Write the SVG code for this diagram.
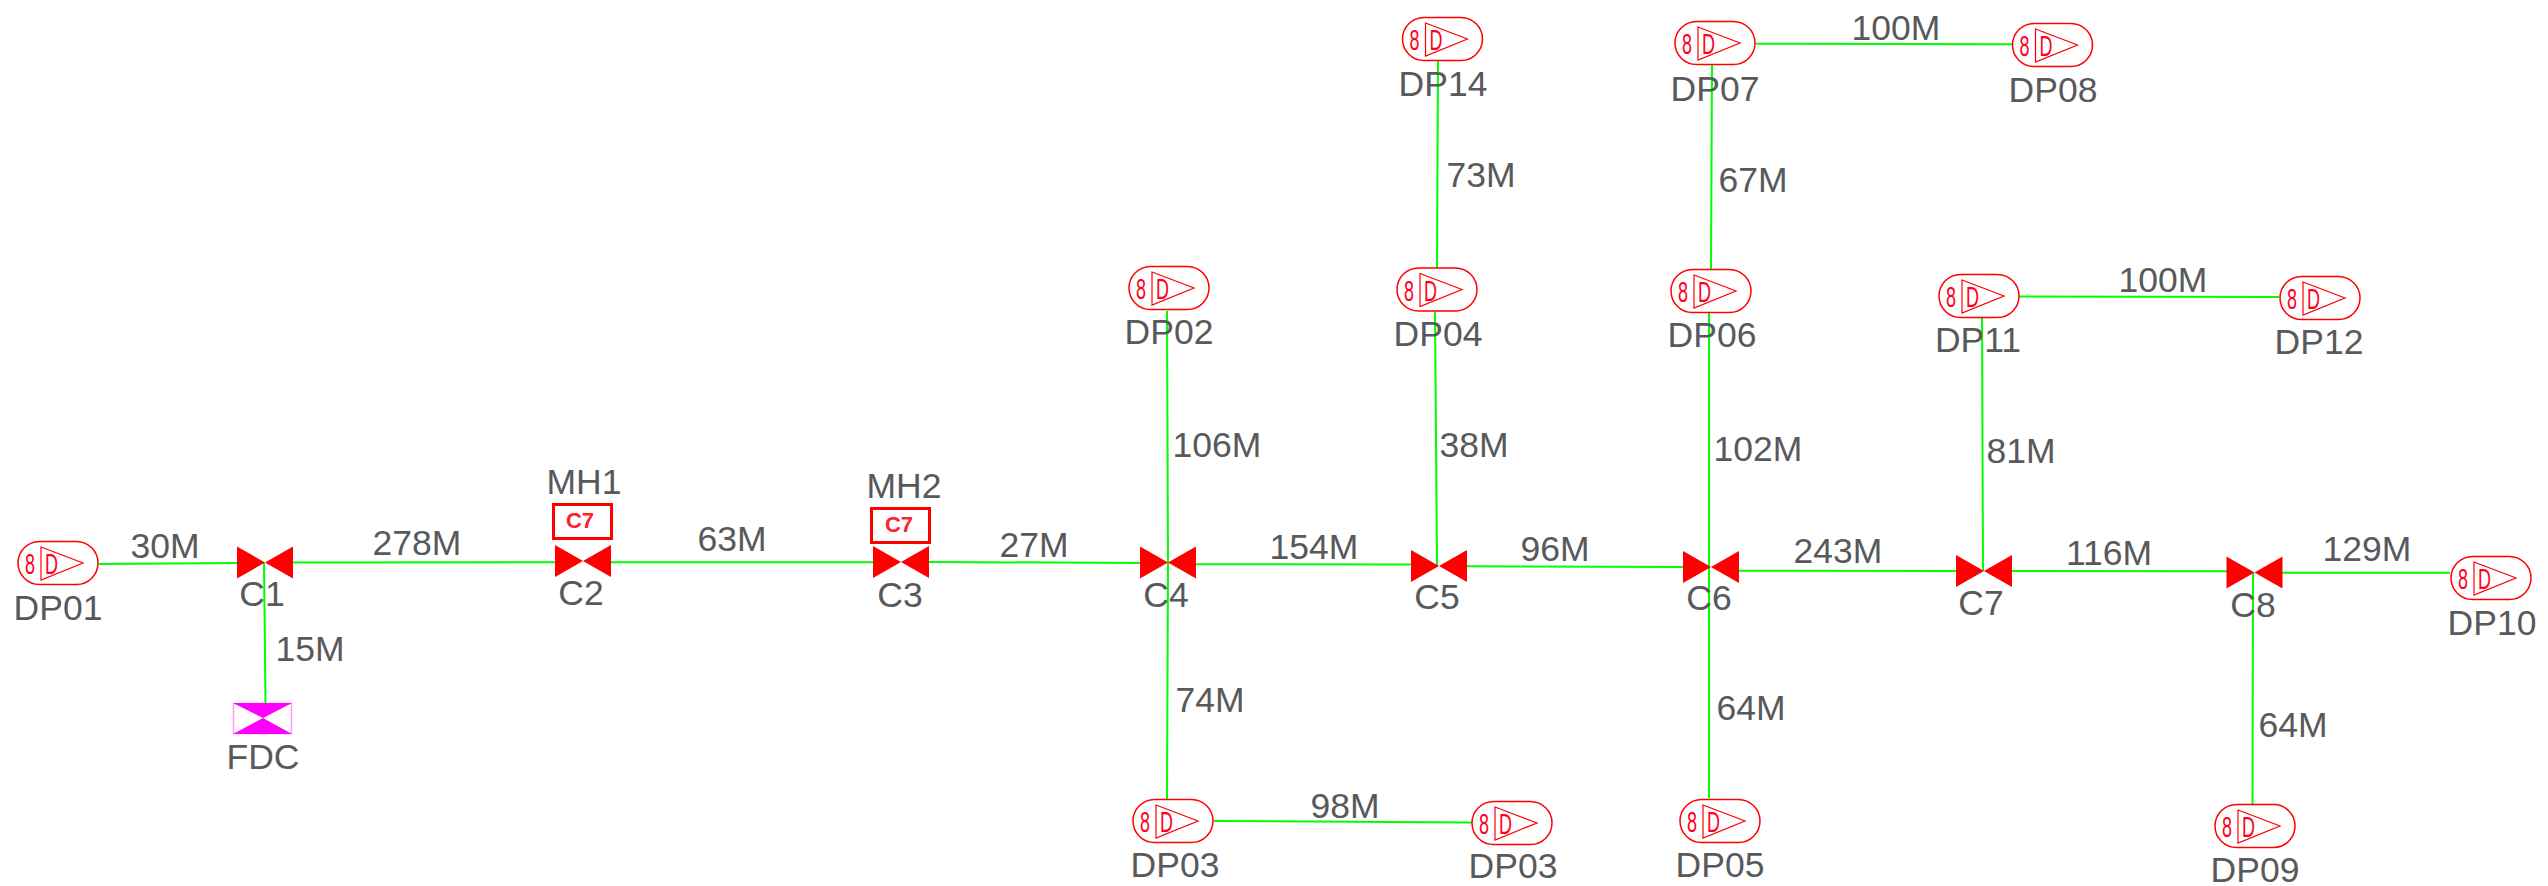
<svg xmlns="http://www.w3.org/2000/svg" width="2548" height="886" viewBox="0 0 2548 886">
<style>
text{font-family:"Liberation Sans",Arial,sans-serif}
.t{font-size:35.5px;fill:#58595b;text-anchor:middle}
.c line{stroke:#00ff00;stroke-width:2;fill:none}
.p{fill:none;stroke:#ff0000;stroke-width:1.5}
.tri{fill:none;stroke:#ff0000;stroke-width:1.2}
.s{font-size:29px;fill:#ff0022;text-anchor:middle}
.v{fill:#ff0000}
.box{fill:#fff;stroke:#ff0000;stroke-width:3}
.bt{font-size:22px;font-weight:bold;fill:#ff2030;text-anchor:middle}
</style>
<defs>
<g id="dpshape"><rect class="p" x="-40" y="-21.5" width="80" height="43" rx="21.5" ry="21.5"/><path class="tri" d="M-17-16L25 0L-17 17Z"/></g>
<path id="valve" class="v" d="M-28-16L0 0L-28 16ZM28-16L0 0L28 16Z"/>
</defs>
<rect width="2548" height="886" fill="#fff"/>
<g id="connectors" class="c">
<line x1="99" y1="564" x2="237" y2="563"/>
<line x1="293" y1="562.4" x2="555" y2="562.3"/>
<line x1="264" y1="563" x2="265.5" y2="703"/>
<line x1="611" y1="562.3" x2="873" y2="562.3"/>
<line x1="929" y1="562" x2="1141" y2="562.9"/>
<line x1="1167" y1="311" x2="1168" y2="563"/>
<line x1="1168" y1="563" x2="1167" y2="799"/>
<line x1="1196" y1="564.2" x2="1411" y2="564.4"/>
<line x1="1435" y1="311" x2="1437" y2="566"/>
<line x1="1437" y1="268" x2="1438" y2="61"/>
<line x1="1467" y1="566.3" x2="1683" y2="567"/>
<line x1="1709" y1="313" x2="1709" y2="567"/>
<line x1="1711" y1="269" x2="1712" y2="65"/>
<line x1="1756" y1="43.7" x2="2012" y2="44.2"/>
<line x1="1739" y1="570.8" x2="1956" y2="571"/>
<line x1="1709" y1="567" x2="1709" y2="798"/>
<line x1="1982" y1="317" x2="1983" y2="571"/>
<line x1="2012" y1="571" x2="2227" y2="571.2"/>
<line x1="2019" y1="296.6" x2="2279" y2="297"/>
<line x1="2282" y1="572.7" x2="2450" y2="572.7"/>
<line x1="2253" y1="572" x2="2252.5" y2="804"/>
<line x1="1214" y1="821" x2="1472" y2="822.4"/>
<text class="t" x="165" y="558">30M</text>
<text class="t" x="417" y="555">278M</text>
<text class="t" x="310" y="661">15M</text>
<text class="t" x="732" y="551">63M</text>
<text class="t" x="1034" y="557">27M</text>
<text class="t" x="1217" y="457">106M</text>
<text class="t" x="1314" y="559">154M</text>
<text class="t" x="1474" y="457">38M</text>
<text class="t" x="1481" y="187">73M</text>
<text class="t" x="1555" y="561">96M</text>
<text class="t" x="1758" y="461">102M</text>
<text class="t" x="1753" y="192">67M</text>
<text class="t" x="1896" y="40">100M</text>
<text class="t" x="1838" y="563">243M</text>
<text class="t" x="2109" y="565">116M</text>
<text class="t" x="2367" y="561">129M</text>
<text class="t" x="2021" y="463">81M</text>
<text class="t" x="2163" y="292">100M</text>
<text class="t" x="1345" y="818">98M</text>
<text class="t" x="1210" y="712">74M</text>
<text class="t" x="1751" y="720">64M</text>
<text class="t" x="2293" y="737">64M</text>
</g>
<g id="C1"><use href="#valve" x="265" y="562.5"/><text class="t" x="262" y="606">C1</text></g>
<g id="C2"><rect class="box" x="553.5" y="504.5" width="58" height="34"/><text class="bt" x="580" y="528">C7</text><use href="#valve" x="583" y="561"/><text class="t" x="584" y="494">MH1</text><text class="t" x="581" y="605">C2</text></g>
<g id="C3"><rect class="box" x="871.5" y="508.5" width="58" height="34"/><text class="bt" x="899" y="532">C7</text><use href="#valve" x="901" y="562"/><text class="t" x="904" y="498">MH2</text><text class="t" x="900" y="607">C3</text></g>
<g id="C4"><use href="#valve" x="1168" y="562.5"/><text class="t" x="1166" y="607">C4</text></g>
<g id="C5"><use href="#valve" x="1439" y="566"/><text class="t" x="1437" y="609">C5</text></g>
<g id="C6"><use href="#valve" x="1711" y="567"/><text class="t" x="1709" y="610">C6</text></g>
<g id="C7"><use href="#valve" x="1984" y="571"/><text class="t" x="1981" y="615">C7</text></g>
<g id="C8"><use href="#valve" x="2254.5" y="572.5"/><text class="t" x="2253" y="617">C8</text></g>
<g id="FDC"><rect x="233.5" y="703.5" width="58" height="30" fill="#fff" stroke="#ff99ff" stroke-width="1.5"/><path d="M233 703H292L263 718ZM233 734H292L263 718Z" fill="#ff00ff"/><text class="t" x="263" y="769">FDC</text></g>
<g id="DP01"><use href="#dpshape" x="58" y="563"/><g transform="translate(58 563)"><text class="s" transform="scale(.62 1)" x="-45" y="11">8</text><text class="s" transform="scale(.62 1)" x="-10.5" y="11">D</text></g><text class="t" x="58" y="620">DP01</text></g>
<g id="DP02"><use href="#dpshape" x="1169" y="288"/><g transform="translate(1169 288)"><text class="s" transform="scale(.62 1)" x="-45" y="11">8</text><text class="s" transform="scale(.62 1)" x="-10.5" y="11">D</text></g><text class="t" x="1169" y="344">DP02</text></g>
<g id="DP03a"><use href="#dpshape" x="1173" y="821"/><g transform="translate(1173 821)"><text class="s" transform="scale(.62 1)" x="-45" y="11">8</text><text class="s" transform="scale(.62 1)" x="-10.5" y="11">D</text></g><text class="t" x="1175" y="877">DP03</text></g>
<g id="DP03b"><use href="#dpshape" x="1512" y="823"/><g transform="translate(1512 823)"><text class="s" transform="scale(.62 1)" x="-45" y="11">8</text><text class="s" transform="scale(.62 1)" x="-10.5" y="11">D</text></g><text class="t" x="1513" y="878">DP03</text></g>
<g id="DP04"><use href="#dpshape" x="1437" y="289.5"/><g transform="translate(1437 289.5)"><text class="s" transform="scale(.62 1)" x="-45" y="11">8</text><text class="s" transform="scale(.62 1)" x="-10.5" y="11">D</text></g><text class="t" x="1438" y="346">DP04</text></g>
<g id="DP05"><use href="#dpshape" x="1720" y="821"/><g transform="translate(1720 821)"><text class="s" transform="scale(.62 1)" x="-45" y="11">8</text><text class="s" transform="scale(.62 1)" x="-10.5" y="11">D</text></g><text class="t" x="1720" y="877">DP05</text></g>
<g id="DP06"><use href="#dpshape" x="1711" y="291"/><g transform="translate(1711 291)"><text class="s" transform="scale(.62 1)" x="-45" y="11">8</text><text class="s" transform="scale(.62 1)" x="-10.5" y="11">D</text></g><text class="t" x="1712" y="347">DP06</text></g>
<g id="DP07"><use href="#dpshape" x="1715" y="43"/><g transform="translate(1715 43)"><text class="s" transform="scale(.62 1)" x="-45" y="11">8</text><text class="s" transform="scale(.62 1)" x="-10.5" y="11">D</text></g><text class="t" x="1715" y="101">DP07</text></g>
<g id="DP08"><use href="#dpshape" x="2052.5" y="45"/><g transform="translate(2052.5 45)"><text class="s" transform="scale(.62 1)" x="-45" y="11">8</text><text class="s" transform="scale(.62 1)" x="-10.5" y="11">D</text></g><text class="t" x="2053" y="102">DP08</text></g>
<g id="DP09"><use href="#dpshape" x="2255" y="826"/><g transform="translate(2255 826)"><text class="s" transform="scale(.62 1)" x="-45" y="11">8</text><text class="s" transform="scale(.62 1)" x="-10.5" y="11">D</text></g><text class="t" x="2255" y="882">DP09</text></g>
<g id="DP10"><use href="#dpshape" x="2491" y="578"/><g transform="translate(2491 578)"><text class="s" transform="scale(.62 1)" x="-45" y="11">8</text><text class="s" transform="scale(.62 1)" x="-10.5" y="11">D</text></g><text class="t" x="2492" y="635">DP10</text></g>
<g id="DP11"><use href="#dpshape" x="1979" y="296"/><g transform="translate(1979 296)"><text class="s" transform="scale(.62 1)" x="-45" y="11">8</text><text class="s" transform="scale(.62 1)" x="-10.5" y="11">D</text></g><text class="t" x="1978" y="352">DP11</text></g>
<g id="DP12"><use href="#dpshape" x="2320" y="298"/><g transform="translate(2320 298)"><text class="s" transform="scale(.62 1)" x="-45" y="11">8</text><text class="s" transform="scale(.62 1)" x="-10.5" y="11">D</text></g><text class="t" x="2319" y="354">DP12</text></g>
<g id="DP14"><use href="#dpshape" x="1442.5" y="39"/><g transform="translate(1442.5 39)"><text class="s" transform="scale(.62 1)" x="-45" y="11">8</text><text class="s" transform="scale(.62 1)" x="-10.5" y="11">D</text></g><text class="t" x="1443" y="96">DP14</text></g>
</svg>
